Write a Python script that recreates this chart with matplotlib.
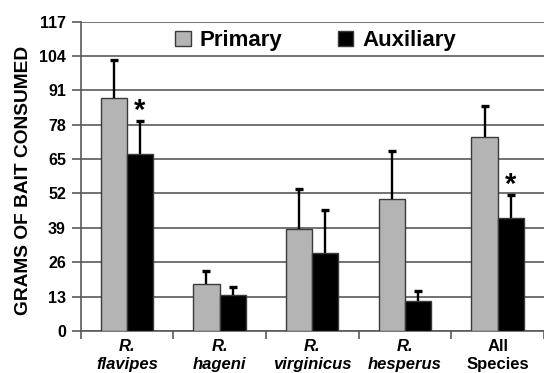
import matplotlib
matplotlib.use("Agg")
import matplotlib.pyplot as plt
import numpy as np

plt.rcParams.update({
    "font.family": ["Liberation Sans", "DejaVu Sans"],
    "font.weight": "bold",
})

# data
categories = ["R.\nflavipes", "R.\nhageni", "R.\nvirginicus", "R.\nhesperus", "All\nSpecies"]
italic = [True, True, True, True, False]
primary = [88.0, 17.8, 38.7, 49.7, 73.3]
auxiliary = [67.0, 13.5, 29.3, 11.2, 42.8]
primary_err = [14.4, 4.9, 15.0, 18.4, 11.8]
auxiliary_err = [12.5, 3.2, 16.3, 4.0, 8.5]
significant = [True, False, False, False, True]   # asterisk over auxiliary bar
y_ticks = [0, 13, 26, 39, 52, 65, 78, 91, 104, 117]

C_PRIM = "#b4b4b4"
C_AUX = "#000000"
C_EDGE = "#3a3a3a"
C_GRID = "#5a5a5a"

fig = plt.figure(figsize=(5.44, 3.73), dpi=100)
ax = fig.add_axes([80.5 / 544, 1 - 330.9 / 373, 1 - 80.5 / 544, (330.9 - 21.5) / 373])

x = np.arange(len(categories))
w = 0.283

ax.bar(x - w / 2, primary, w, color=C_PRIM, edgecolor=C_EDGE, linewidth=1.0,
       label="Primary", zorder=3)
ax.bar(x + w / 2, auxiliary, w, color=C_AUX, edgecolor=C_EDGE, linewidth=1.0,
       label="Auxiliary", zorder=3)

# upper-only error bars: stem + cap at the top
for xs, vals, errs in [(x - w / 2, primary, primary_err),
                       (x + w / 2, auxiliary, auxiliary_err)]:
    tops = np.array(vals) + np.array(errs)
    ax.vlines(xs, vals, tops, color="black", linewidth=1.7, zorder=4)
    ax.plot(xs, tops, linestyle="none", marker="_", markersize=6,
            markeredgewidth=2.4, color="black", zorder=4)

for xi, a, e, s in zip(x, auxiliary, auxiliary_err, significant):
    if s:
        ax.annotate("*", xy=(xi + w / 2, a + e), xytext=(0, -3),
                    textcoords="offset points", ha="center", va="bottom",
                    fontsize=21, fontweight="bold")

ax.set_ylim(0, 117)
ax.set_yticks(y_ticks)
ax.set_xlim(-0.5, 4.47)
ax.grid(axis="y", color=C_GRID, linewidth=1.2, zorder=0)
ax.set_axisbelow(True)
ax.tick_params(axis="y", length=6.5, width=1.2, color=C_GRID, pad=4,
               labelsize=11.5)

# category labels at centres, tick marks at the group boundaries
ax.set_xticks(x)
ax.set_xticklabels(categories, fontsize=12, linespacing=1.2)
for lab, it in zip(ax.get_xticklabels(), italic):
    if it:
        lab.set_style("italic")
ax.tick_params(axis="x", which="major", length=0, pad=6)
ax.set_xticks(np.arange(len(categories) + 1) - 0.5, minor=True)
ax.tick_params(axis="x", which="minor", length=6, width=1.2, color=C_GRID)

for side in ["top", "right"]:
    ax.spines[side].set_visible(False)
for side in ["left", "bottom"]:
    ax.spines[side].set_color(C_GRID)
    ax.spines[side].set_linewidth(1.2)

ax.set_ylabel("GRAMS OF BAIT CONSUMED", fontsize=13.8, fontweight="bold")
ax.yaxis.set_label_coords(-0.1036, 0.485)

ax.legend(loc="upper left", bbox_to_anchor=(0.185, 1.0), ncol=2, frameon=False,
          fontsize=16, handlelength=0.7, handleheight=0.6, handletextpad=0.4,
          columnspacing=2.5, borderaxespad=0)

fig.savefig("out.png", dpi=100, facecolor="white")
